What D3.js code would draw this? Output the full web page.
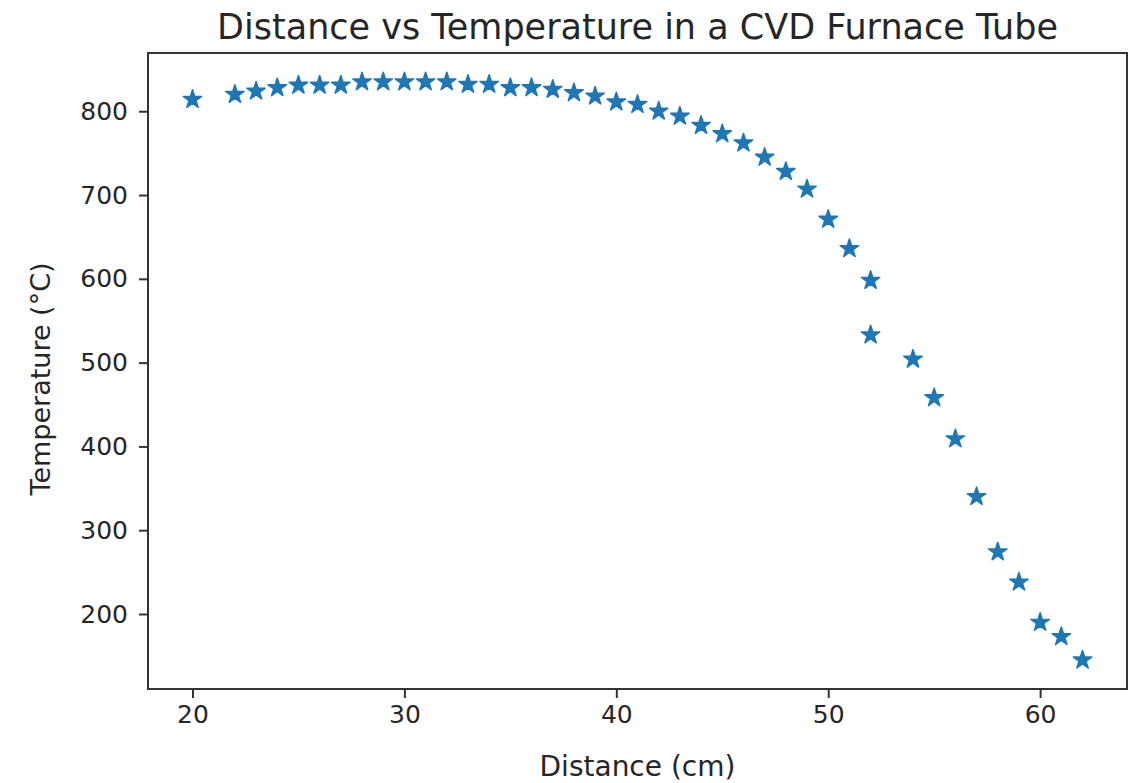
<!DOCTYPE html>
<html>
<head>
<meta charset="utf-8">
<script src="https://cdn.jsdelivr.net/npm/d3@7"></script>
<style>
    body { margin: 0; background: #fff; }
    text { font-family: "DejaVu Sans", sans-serif; fill: #262626; }
</style>
</head>
<body>
<script>
// readings (cm, deg C)
const distance = [20, 22, 23, 24, 25, 26, 27, 28, 29, 30, 31, 32, 33, 34, 35, 36, 37, 38, 39, 40,
                  41, 42, 43, 44, 45, 46, 47, 48, 49, 50, 51, 52, 52, 54, 55, 56, 57, 58, 59, 60, 61, 62];
const temperature = [814, 820, 824, 828, 831, 831, 831, 835, 835, 835, 835, 835, 832, 832, 828, 828, 826, 822, 818, 811,
                     808, 800, 794, 783, 773, 762, 745, 728, 707, 671, 636, 598, 533, 504, 458, 409, 340, 274, 238, 190, 173, 145];
const xTicks = [20, 30, 40, 50, 60];
const yTicks = [200, 300, 400, 500, 600, 700, 800];

const points = distance.map((d, i) => ({x: d, y: temperature[i]}));

const W = 1134, H = 783;
const margin = {top: 53, right: 7, bottom: 94, left: 148},
    width = W - margin.left - margin.right,
    height = H - margin.top - margin.bottom;

// matplotlib style 5% padding around the data
function padded(ext) {
    const p = (ext[1] - ext[0]) * 0.05;
    return [ext[0] - p, ext[1] + p];
}

const x = d3.scaleLinear()
    .domain(padded(d3.extent(distance)))
    .range([0, width]);
const y = d3.scaleLinear()
    .domain(padded(d3.extent(temperature)))
    .range([height, 0]);

const svg = d3.select("body").append("svg")
    .attr("width", W)
    .attr("height", H);

const g = svg.append("g")
    .attr("transform", "translate(" + margin.left + "," + margin.top + ")");

const xAxis = g.append("g")
    .attr("transform", "translate(0," + height + ")")
    .call(d3.axisBottom(x).tickValues(xTicks).tickSize(9).tickPadding(7).tickFormat(d3.format("d")));
const yAxis = g.append("g")
    .call(d3.axisLeft(y).tickValues(yTicks).tickSize(9).tickPadding(11).tickFormat(d3.format("d")));

[xAxis, yAxis].forEach(a => {
    a.select(".domain").remove();
    a.selectAll(".tick line").attr("stroke", "#333").attr("stroke-width", 2);
    a.selectAll(".tick text").attr("font-size", 25).attr("fill", "#262626")
        .attr("font-family", "DejaVu Sans");
});

g.append("rect")
    .attr("width", width)
    .attr("height", height)
    .attr("fill", "none")
    .attr("stroke", "#333")
    .attr("stroke-width", 2);

const star = d3.symbol().type(d3.symbolStar).size(105);
g.append("g")
    .selectAll("path")
    .data(points)
    .enter()
    .append("path")
    .attr("d", star)
    .attr("fill", "#1f77b4")
    .attr("stroke", "#1f77b4")
    .attr("stroke-width", 1.5)
    .attr("stroke-linejoin", "round")
    .attr("transform", d => "translate(" + x(d.x) + "," + y(d.y) + ")");

svg.append("text")
    .attr("x", margin.left + width / 2)
    .attr("y", 39)
    .attr("text-anchor", "middle")
    .attr("font-size", 35)
    .text("Distance vs Temperature in a CVD Furnace Tube");

svg.append("text")
    .attr("x", margin.left + width / 2)
    .attr("y", 776)
    .attr("text-anchor", "middle")
    .attr("font-size", 28)
    .text("Distance (cm)");

svg.append("text")
    .attr("transform", "translate(50," + (margin.top + height / 2 + 8) + ") rotate(-90)")
    .attr("text-anchor", "middle")
    .attr("font-size", 27)
    .text("Temperature (°C)");
</script>
</body>
</html>
